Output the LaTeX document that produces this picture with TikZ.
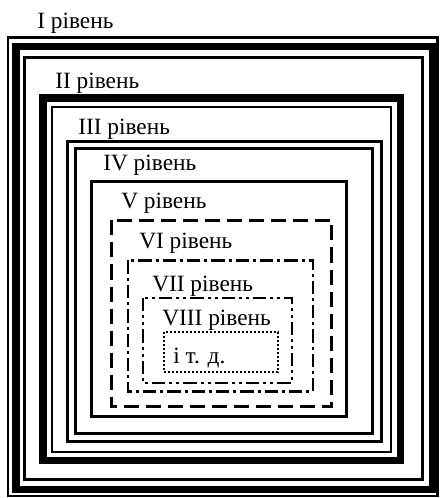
\documentclass[tikz,border=0pt]{standalone}
\usepackage{fontspec}
\setmainfont{Liberation Serif}
\begin{document}
\begin{tikzpicture}[x=0.75pt,y=-0.75pt,
  lbl/.style={anchor=base west,inner sep=0pt,font=\fontsize{17.5}{20}\selectfont},
  thinln/.style={line width=2pt},
  midln/.style={line width=2.25pt},
  thickln/.style={line width=5.4pt},
  dashln/.style={line width=2.25pt,dash pattern=on 11.25pt off 5.25pt},
  dashdotln/.style={line width=2pt,dash pattern=on 10pt off 3pt on 2.25pt off 3pt},
  dashdotdotln/.style={line width=2pt,dash pattern=on 10pt off 3pt on 2.25pt off 3pt on 2.25pt off 3pt},
  dotln/.style={line width=1.5pt,dash pattern=on 1.5pt off 1.5pt}]
\useasboundingbox (0,0) rectangle (439,498);
\fill[white] (0,0) rectangle (439,498);
% Level I
\draw[thinln] (8,37.5) rectangle (437.5,496);
\draw[thickln] (16,46.5) rectangle (432.5,489.5);
\draw[midln] (24.5,57.5) rectangle (422,479);
% Level II
\draw[thickln] (43,98) rectangle (400.5,460.5);
\draw[thinln] (52,107) rectangle (391,452);
% Level III
\draw[midln] (67.5,141.5) rectangle (381.5,441);
\draw[midln] (75,148.5) rectangle (372.5,433);
% Level IV
\draw[midln] (91.5,181.5) rectangle (346.5,416.5);
% Level V
\draw[dashln] (111.5,220.5) rectangle (331.5,406.5);
% Level VI
\draw[dashdotln] (128,260.5) rectangle (313,391.5);
% Level VII
\draw[dashdotdotln] (143,298) rectangle (292,383);
% Level VIII
\draw[dotln] (164,332) rectangle (278,372);
% labels
\node[lbl] (l1) at (37,29) {I рівень};
\node[lbl] (l2) at (55,89) {II рівень};
\node[lbl] (l3) at (78,135) {III рівень};
\node[lbl] (l4) at (103,171) {IV рівень};
\node[lbl] (l5) at (121,209) {V рівень};
\node[lbl] (l6) at (139,249) {VI рівень};
\node[lbl] (l7) at (152,291) {VII рівень};
\node[lbl] (l8) at (162,325) {VIII рівень};
\node[lbl] (l9) at (173,363) {і т. д.};
\end{tikzpicture}
\end{document}
